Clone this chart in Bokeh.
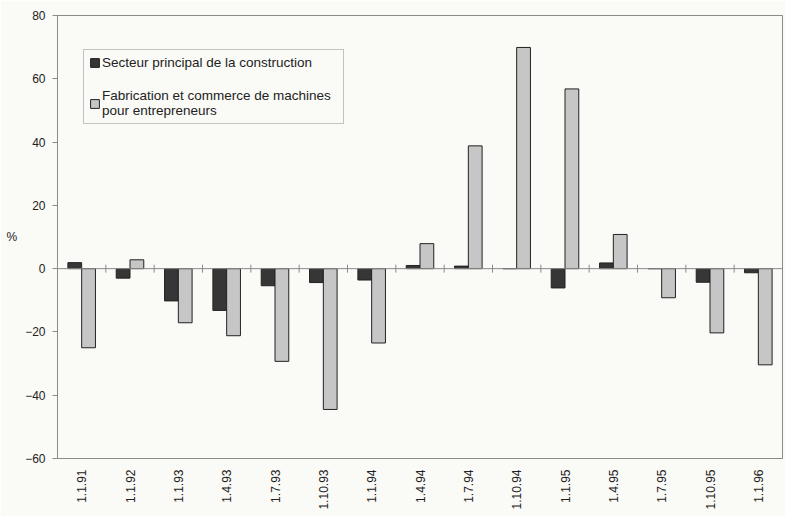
import math
import numpy as np
from bokeh.plotting import figure
from bokeh.models import (ColumnDataSource, Range1d, FixedTicker, Span, Legend,
                          LegendItem)
from bokeh.embed import file_html
from bokeh.resources import INLINE

categories = ["1.1.91", "1.1.92", "1.1.93", "1.4.93", "1.7.93", "1.10.93", "1.1.94",
              "1.4.94", "1.7.94", "1.10.94", "1.1.95", "1.4.95", "1.7.95", "1.10.95",
              "1.1.96"]
construction = [1.9, -3.0, -10.2, -13.2, -5.4, -4.4, -3.6, 1.0, 0.8, 0.0, -6.1, 1.8,
                0.0, -4.3, -1.3]
machines = [-25.0, 2.8, -17.1, -21.2, -29.3, -44.5, -23.5, 7.9, 38.8, 69.9, 56.8,
            10.8, -9.2, -20.3, -30.4]
y_ticks = [-60, -40, -20, 0, 20, 40, 60, 80]
series_names = ["Secteur principal de la construction",
                "Fabrication et commerce de machines\npour entrepreneurs"]

n = len(categories)
centers = np.arange(n) + 0.5
bar_w = 0.285

src = ColumnDataSource(dict(
    xd=centers - bar_w / 2, xl=centers + bar_w / 2,
    dark=construction, light=machines, cat=categories))

BG = "#fafaf7"
FONT = "Liberation Sans"

p = figure(width=785, height=516, output_backend="svg", toolbar_location=None,
           x_range=Range1d(0, n), y_range=Range1d(-60, 80),
           min_border_left=57, min_border_right=3, min_border_top=15,
           min_border_bottom=58, background_fill_color=BG, border_fill_color=BG)
p.outline_line_color = "#8a8a8a"
p.outline_line_width = 1
p.xgrid.visible = False
p.ygrid.visible = False

zero = Span(location=0, dimension="width", line_color="#8a8a8a", line_width=1)
p.add_layout(zero)

# category separators on zero line
p.scatter(x=np.arange(1, n), y=np.zeros(n - 1), marker="dash", angle=math.pi / 2,
          size=8, line_color="#8a8a8a", line_width=1)

r1 = p.vbar(x="xd", top="dark", bottom=0, width=bar_w, source=src,
            fill_color="#363636", line_color="#222222", line_width=1)
r2 = p.vbar(x="xl", top="light", bottom=0, width=bar_w, source=src,
            fill_color="#c6c6c6", line_color="#222222", line_width=1)

legend = Legend(items=[LegendItem(label=series_names[0], renderers=[r1]),
                       LegendItem(label=series_names[1], renderers=[r2])],
                location=(26, 334))
legend.background_fill_color = BG
legend.border_line_color = "#8a8a8a"
legend.label_text_font = FONT
legend.label_text_font_size = "13.5px"
legend.label_text_line_height = 1.1
legend.label_text_color = "#222222"
legend.glyph_width = 11
legend.glyph_height = 11
legend.label_standoff = 2
legend.padding = 5
legend.spacing = 18
legend.margin = 0
legend.label_height = 14
legend.label_width = 236
p.add_layout(legend)

# y axis
ya = p.yaxis[0]
ya.ticker = FixedTicker(ticks=y_ticks)
ya.major_tick_out = 5
ya.major_tick_in = 0
ya.minor_tick_out = 0
ya.minor_tick_in = 0
ya.major_label_standoff = 7
ya.axis_line_color = "#8a8a8a"
ya.major_tick_line_color = "#8a8a8a"
ya.major_label_text_font = FONT
ya.major_label_text_font_size = "12px"
ya.major_label_text_color = "#222222"
ya.axis_label = "%"
ya.axis_label_orientation = "horizontal"
ya.axis_label_text_font = FONT
ya.axis_label_text_font_size = "12px"
ya.axis_label_text_font_style = "normal"
ya.axis_label_text_color = "#222222"
ya.axis_label_standoff = 5

# x axis
xa = p.xaxis[0]
xa.ticker = FixedTicker(ticks=list(centers))
xa.major_label_overrides = {float(c): lab for c, lab in zip(centers, categories)}
xa.major_label_orientation = math.pi / 2
xa.major_tick_out = 0
xa.major_tick_in = 0
xa.minor_tick_out = 0
xa.minor_tick_in = 0
xa.major_label_standoff = 11
xa.axis_line_color = "#8a8a8a"
xa.major_label_text_font = FONT
xa.major_label_text_font_size = "12px"
xa.major_label_text_color = "#222222"

open("out.html", "w").write(file_html(p, INLINE))
